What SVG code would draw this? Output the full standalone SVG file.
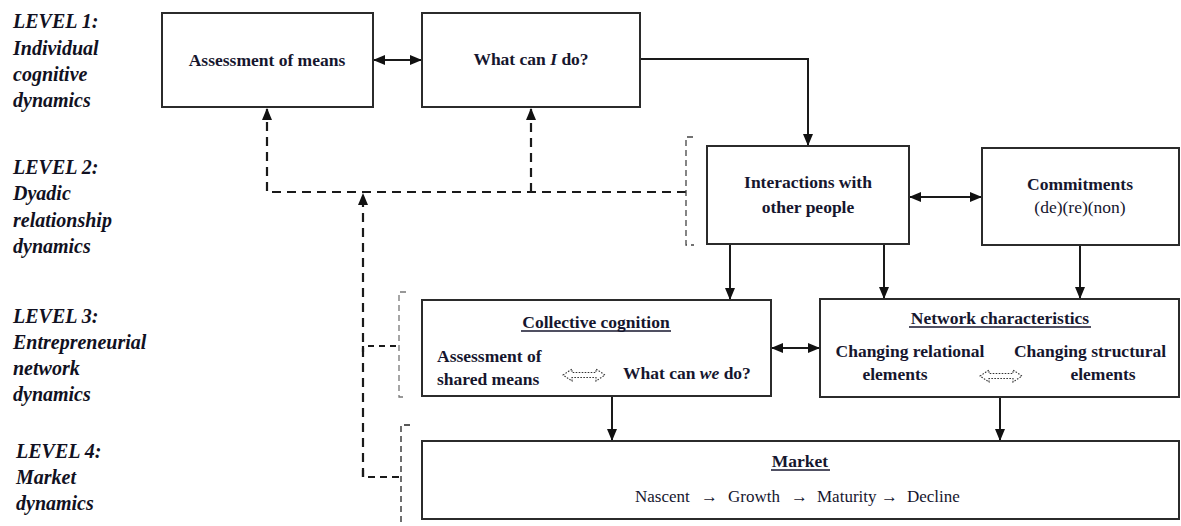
<svg xmlns="http://www.w3.org/2000/svg" width="1181" height="526" viewBox="0 0 1181 526">
  <style>
    .box { fill: #ffffff; stroke: #2b2b2b; stroke-width: 2; }
    .t { font-family: "Liberation Serif", "Times New Roman", serif; fill: #16162e; }
    .lvl { font-size: 20px; font-weight: bold; font-style: italic; fill: #111122; }
    .b { font-size: 17.5px; font-weight: bold; }
    .r { font-size: 17.5px; }
    .mid { text-anchor: middle; }
    .solid { fill: none; stroke: #1a1a1a; stroke-width: 2; }
    .dash { fill: none; stroke: #1a1a1a; stroke-width: 2.2; stroke-dasharray: 9 6; }
    .brk { fill: none; stroke: #444; stroke-width: 1.3; stroke-dasharray: 6 4; }
    .dotarrow { fill: #ffffff; stroke: #333; stroke-width: 1.1; stroke-dasharray: 1.6 1.4; }
    .ul { stroke: #16162e; stroke-width: 1.4; }
  </style>
  <defs>
    <marker id="ah" markerUnits="userSpaceOnUse" markerWidth="12" markerHeight="10" refX="11" refY="5" orient="auto-start-reverse">
      <path d="M0,0 L12,5 L0,10 Z" fill="#111"/>
    </marker>
  </defs>

  <rect width="1181" height="526" fill="#ffffff"/>

  <!-- level captions -->
  <g id="level-labels" class="t lvl">
    <text x="13" y="28">LEVEL 1:</text>
    <text x="13" y="55">Individual</text>
    <text x="13" y="81">cognitive</text>
    <text x="13" y="107">dynamics</text>
    <text x="13" y="174">LEVEL 2:</text>
    <text x="13" y="200">Dyadic</text>
    <text x="13" y="227">relationship</text>
    <text x="13" y="253">dynamics</text>
    <text x="13" y="323">LEVEL 3:</text>
    <text x="13" y="349">Entrepreneurial</text>
    <text x="13" y="375">network</text>
    <text x="13" y="401">dynamics</text>
    <text x="16" y="458">LEVEL 4:</text>
    <text x="16" y="484">Market</text>
    <text x="16" y="510">dynamics</text>
  </g>

  <!-- connectors -->
  <g id="connectors">
    <!-- solid arrows -->
    <line class="solid" x1="374" y1="60" x2="421" y2="60" marker-start="url(#ah)" marker-end="url(#ah)"/>
    <polyline class="solid" points="640,59 808,59 808,145" marker-end="url(#ah)"/>
    <line class="solid" x1="910" y1="197" x2="981" y2="197" marker-start="url(#ah)" marker-end="url(#ah)"/>
    <line class="solid" x1="730" y1="244" x2="730" y2="299" marker-end="url(#ah)"/>
    <line class="solid" x1="884" y1="244" x2="884" y2="298" marker-end="url(#ah)"/>
    <line class="solid" x1="1080" y1="245" x2="1080" y2="298" marker-end="url(#ah)"/>
    <line class="solid" x1="772" y1="348" x2="819" y2="348" marker-start="url(#ah)" marker-end="url(#ah)"/>
    <line class="solid" x1="612" y1="397" x2="612" y2="440" marker-end="url(#ah)"/>
    <line class="solid" x1="1000" y1="397" x2="1000" y2="440" marker-end="url(#ah)"/>

    <!-- dashed feedback lines -->
    <polyline class="dash" points="686,192 267,192 267,109" marker-end="url(#ah)"/>
    <line class="dash" x1="531" y1="192" x2="531" y2="109" marker-end="url(#ah)"/>
    <line class="dash" x1="363" y1="477" x2="363" y2="194" marker-end="url(#ah)"/>
    <polyline class="dash" points="363,352 363,346 399,346" style="stroke-dasharray: 6 5"/>
    <polyline class="dash" points="363,470 363,477 401,477" style="stroke-dasharray: 7 5"/>

    <!-- level brackets -->
    <polyline class="brk" points="693,137 686,137 686,245 694,245"/>
    <polyline class="brk" points="406,292 399,292 399,397 406,397" style="stroke:#777"/>
    <polyline class="brk" points="410,425 401,425 401,526" style="stroke:#222"/>
  </g>

  <!-- Level 1 -->
  <g id="assessment-of-means">
    <rect class="box" x="162" y="13" width="211" height="94"/>
    <text class="t b mid" x="267" y="66">Assessment of means</text>
  </g>
  <g id="what-can-i-do">
    <rect class="box" x="422" y="13" width="218" height="94"/>
    <text class="t b mid" x="531" y="65">What can <tspan font-style="italic">I</tspan> do?</text>
  </g>

  <!-- Level 2 -->
  <g id="interactions">
    <rect class="box" x="707" y="146" width="202" height="98"/>
    <text class="t b mid" x="808" y="188">Interactions with</text>
    <text class="t b mid" x="808" y="213">other people</text>
  </g>
  <g id="commitments">
    <rect class="box" x="982" y="148" width="197" height="97"/>
    <text class="t b mid" x="1080" y="190">Commitments</text>
    <text class="t r mid" x="1080" y="213">(de)(re)(non)</text>
  </g>

  <!-- Level 3 -->
  <g id="collective-cognition">
    <rect class="box" x="422" y="300" width="349" height="96"/>
    <text class="t b mid" x="596" y="328">Collective cognition</text>
    <line class="ul" x1="521" y1="331" x2="671" y2="331"/>
    <text class="t b" x="437" y="362">Assessment of</text>
    <text class="t b" x="437" y="385">shared means</text>
    <path class="dotarrow" d="M563,375 L572,369 L572,372.5 L596,372.5 L596,369 L605,375 L596,381 L596,377.5 L572,377.5 L572,381 Z"/>
    <text class="t b" x="623" y="379">What can <tspan font-style="italic">we</tspan> do?</text>
  </g>
  <g id="network-characteristics">
    <rect class="box" x="820" y="299" width="359" height="98"/>
    <text class="t b mid" x="1000" y="324">Network characteristics</text>
    <line class="ul" x1="909" y1="327" x2="1091" y2="327"/>
    <text class="t b mid" x="910" y="357">Changing relational</text>
    <text class="t b mid" x="895" y="380">elements</text>
    <path class="dotarrow" d="M980,376 L989,370 L989,373.5 L1013,373.5 L1013,370 L1022,376 L1013,382 L1013,378.5 L989,378.5 L989,382 Z"/>
    <text class="t b mid" x="1090" y="357">Changing structural</text>
    <text class="t b mid" x="1103" y="380">elements</text>
  </g>

  <!-- Level 4 -->
  <g id="market">
    <rect class="box" x="422" y="441" width="757" height="78"/>
    <text class="t b mid" x="800" y="467">Market</text>
    <line class="ul" x1="771" y1="470" x2="830" y2="470"/>
    <text class="t r" y="502" style="font-size:17px"><tspan x="635">Nascent</tspan><tspan x="701">→</tspan><tspan x="728">Growth</tspan><tspan x="791">→</tspan><tspan x="817">Maturity</tspan><tspan x="881">→</tspan><tspan x="907">Decline</tspan></text>
  </g>
</svg>
